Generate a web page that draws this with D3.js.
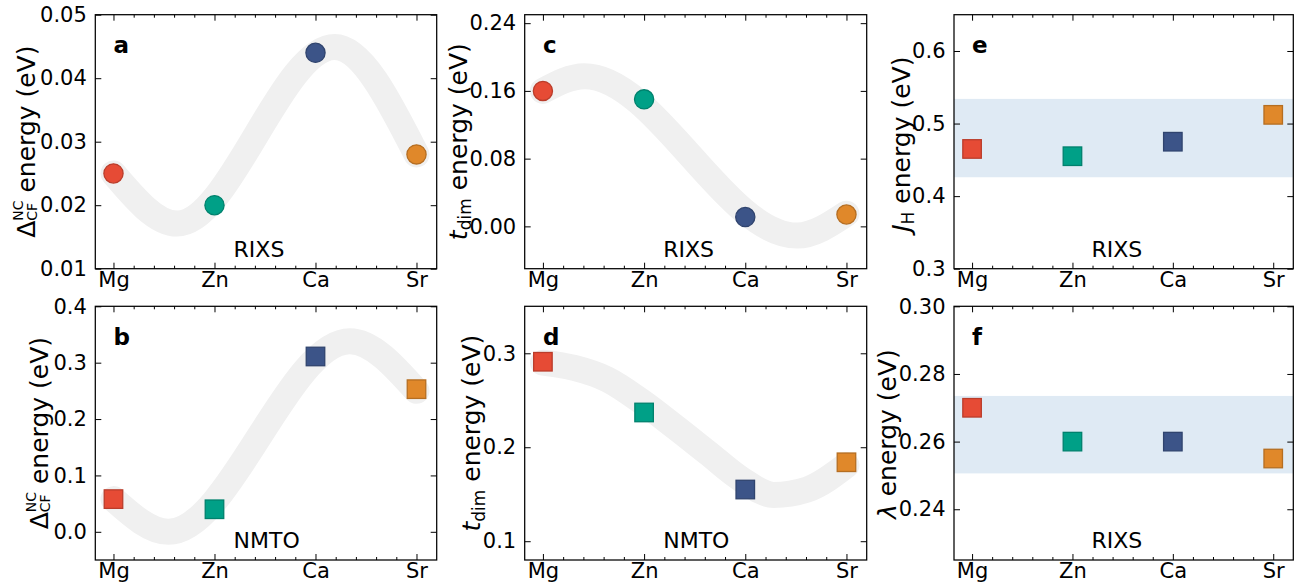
<!DOCTYPE html>
<html>
<head>
<meta charset="utf-8">
<script src="https://d3js.org/d3.v7.min.js"></script>
<style>
  body { margin: 0; background: #fff; }
  svg { display: block; font-family: "DejaVu Sans", sans-serif; }
</style>
</head>
<body>
<svg id="chart" width="1294" height="585"></svg>
<script>
// categories and colours
var cats = ["Mg", "Zn", "Ca", "Sr"];
var catColors = ["#E64B35", "#00A087", "#3C5488", "#E0882A"];

// values
var rixsCF = [0.025, 0.020, 0.044, 0.028];
var nmtoCF = [0.058, 0.040, 0.311, 0.253];
var rixsTdim = [0.160, 0.150, 0.011, 0.014];
var nmtoTdim = [0.291, 0.237, 0.155, 0.184];
var rixsJH = [0.465, 0.455, 0.475, 0.512];
var rixsLambda = [0.270, 0.260, 0.260, 0.255];

// shaded ranges (e, f)
var jhRange = [0.426, 0.534];
var lambdaRange = [0.2506, 0.2735];

// grey guide curves, points read along the band centre
var guideA = [[0, 0.0250], [0.63, 0.0171], [2.19, 0.0449], [3, 0.0280]];
var guideB = [[0, 0.058], [0.545, 0.000], [2.34, 0.338], [3, 0.250]];
var guideC = [[0, 0.160], [0.41, 0.1774], [2.51, -0.0109], [3, 0.015]];
var guideD = [[0, 0.290], [0.31, 0.2844], [0.64, 0.272], [0.97, 0.249], [1.30, 0.222],
              [1.63, 0.194], [1.96, 0.166], [2.28, 0.1493], [2.61, 0.155], [3, 0.181]];

// y ticks
var ticksA = [0.01, 0.02, 0.03, 0.04, 0.05];
var ticksB = [0.0, 0.1, 0.2, 0.3, 0.4];
var ticksC = [0.00, 0.08, 0.16, 0.24];
var ticksD = [0.1, 0.2, 0.3];
var ticksE = [0.3, 0.4, 0.5, 0.6];
var ticksF = [0.24, 0.26, 0.28, 0.30];

var colL = [95.3, 524.7, 954], colR = [436.7, 866.7, 1293.3];
var rowT = [14.7, 306.3], rowB = [268.7, 560];

var panels = [
  {letter: "a", col: 0, row: 0, vals: rixsCF, dom: [0.01, 0.05], ticks: ticksA, fmt: ".2f", shape: "circle", guide: guideA, method: "RIXS", label: "cf"},
  {letter: "b", col: 0, row: 1, vals: nmtoCF, dom: [-0.05, 0.4], ticks: ticksB, fmt: ".1f", shape: "square", guide: guideB, method: "NMTO", label: "cf"},
  {letter: "c", col: 1, row: 0, vals: rixsTdim, dom: [-0.05, 0.25], ticks: ticksC, fmt: ".2f", shape: "circle", guide: guideC, method: "RIXS", label: "tdim"},
  {letter: "d", col: 1, row: 1, vals: nmtoTdim, dom: [0.08, 0.35], ticks: ticksD, fmt: ".1f", shape: "square", guide: guideD, method: "NMTO", label: "tdim"},
  {letter: "e", col: 2, row: 0, vals: rixsJH, dom: [0.3, 0.65], ticks: ticksE, fmt: ".1f", shape: "square", range: jhRange, method: "RIXS", label: "jh"},
  {letter: "f", col: 2, row: 1, vals: rixsLambda, dom: [0.225, 0.30], ticks: ticksF, fmt: ".2f", shape: "square", range: lambdaRange, method: "RIXS", label: "lambda"}
];

var svg = d3.select("#chart");
var FS = 21, LFS = 25;
var minorX = d3.range(1, 16).map(function(i){ return i * 0.2; })
  .filter(function(v){ return Math.abs(v - Math.round(v)) > 0.01 && v < 3.15; });

function styleAxis(g) {
  g.select(".domain").remove();
  g.attr("font-size", FS).attr("font-family", "'DejaVu Sans', sans-serif");
  g.selectAll("line").attr("stroke", "#000").attr("stroke-width", 1);
  g.selectAll("text").attr("fill", "#000");
}

panels.forEach(function(p) {
  var L = colL[p.col], R = colR[p.col], T = rowT[p.row], B = rowB[p.row];
  var x = d3.scaleLinear().domain([-0.18, 3.2]).range([L, R]);
  var y = d3.scaleLinear().domain(p.dom).range([B, T]);
  var g = svg.append("g");

  // shaded range
  if (p.range) {
    g.append("rect")
      .attr("x", L).attr("width", R - L)
      .attr("y", y(p.range[1])).attr("height", y(p.range[0]) - y(p.range[1]))
      .attr("fill", "#dfeaf4");
  }

  // grey guide band
  if (p.guide) {
    var line = d3.line()
      .x(function(d){ return x(d[0]); })
      .y(function(d){ return y(d[1]); })
      .curve(d3.curveMonotoneX);
    g.append("path")
      .attr("d", line(p.guide))
      .attr("fill", "none")
      .attr("stroke", "#f0f0f0")
      .attr("stroke-width", 26)
      .attr("stroke-linecap", "round");
  }

  // axes
  var ax = g.append("g").attr("transform", "translate(" + L + ",0)")
    .call(d3.axisLeft(y).tickValues(p.ticks).tickFormat(d3.format(p.fmt))
      .tickSizeInner(-6).tickSizeOuter(0).tickPadding(8.5));
  styleAxis(ax);
  styleAxis(g.append("g").attr("transform", "translate(" + R + ",0)")
    .call(d3.axisRight(y).tickValues(p.ticks).tickFormat("").tickSizeInner(-6).tickSizeOuter(0)));
  styleAxis(g.append("g").attr("transform", "translate(0," + B + ")")
    .call(d3.axisBottom(x).tickValues([0, 1, 2, 3]).tickFormat(function(d, i){ return cats[i]; })
      .tickSizeInner(-6).tickSizeOuter(0).tickPadding(3.5)));
  styleAxis(g.append("g").attr("transform", "translate(0," + B + ")")
    .call(d3.axisBottom(x).tickValues(minorX).tickFormat("").tickSizeInner(-3).tickSizeOuter(0)));
  styleAxis(g.append("g").attr("transform", "translate(0," + T + ")")
    .call(d3.axisTop(x).tickValues([0, 1, 2, 3]).tickFormat("").tickSizeInner(-6).tickSizeOuter(0)));
  styleAxis(g.append("g").attr("transform", "translate(0," + T + ")")
    .call(d3.axisTop(x).tickValues(minorX).tickFormat("").tickSizeInner(-3).tickSizeOuter(0)));

  // frame
  g.append("rect")
    .attr("x", L).attr("y", T).attr("width", R - L).attr("height", B - T)
    .attr("fill", "none").attr("stroke", "#000").attr("stroke-width", 1.25);

  // markers
  var s = 18.5;
  var m = g.selectAll(".mk").data(p.vals).enter();
  if (p.shape === "circle") {
    m.append("circle").attr("class", "mk")
      .attr("cx", function(d, i){ return x(i); })
      .attr("cy", function(d){ return y(d); })
      .attr("r", 9.6);
  } else {
    m.append("rect").attr("class", "mk")
      .attr("x", function(d, i){ return x(i) - s / 2; })
      .attr("y", function(d){ return y(d) - s / 2; })
      .attr("width", s).attr("height", s);
  }
  g.selectAll(".mk")
    .attr("fill", function(d, i){ return catColors[i]; })
    .attr("stroke", function(d, i){ return d3.color(catColors[i]).darker(0.6); })
    .attr("stroke-width", 1.3);

  // panel letter and method
  g.append("text").attr("x", x(0)).attr("y", T + 38.7)
    .attr("font-size", 23).attr("font-weight", "bold").text(p.letter);
  g.append("text").attr("x", L + 0.405 * (R - L)).attr("y", B - 12)
    .attr("font-size", 22).text(p.method);

  // y label
  var minX = d3.min(ax.selectAll("text").nodes(), function(n){ return n.getBBox().x; }) + L;
  var gap = p.label === "cf" ? 5 : 2.5;
  var lab = g.append("text")
    .attr("transform", "translate(" + (minX - gap) + "," + ((T + B) / 2) + ") rotate(-90)")
    .attr("font-size", LFS);
  if (p.label === "cf") {
    lab.append("tspan").text("Δ");
    var sup = lab.append("tspan").attr("font-size", 14).attr("dy", -12).text("NC");
    var wSup = sup.node().getComputedTextLength();
    var sub = lab.append("tspan").attr("font-size", 14).attr("dx", -wSup).attr("dy", 13.5).text("CF");
    var wSub = sub.node().getComputedTextLength();
    lab.append("tspan").attr("dx", Math.max(0, wSup - wSub)).attr("dy", -1.5).text(" energy (eV)");
  } else if (p.label === "tdim") {
    lab.append("tspan").attr("font-style", "italic").text("t");
    lab.append("tspan").attr("font-size", 17).attr("dy", 4.5).text("dim");
    lab.append("tspan").attr("dy", -4.5).text(" energy (eV)");
  } else if (p.label === "jh") {
    lab.append("tspan").attr("font-style", "italic").text("J");
    lab.append("tspan").attr("font-size", 17).attr("dy", 4.5).text("H");
    lab.append("tspan").attr("dy", -4.5).text(" energy (eV)");
  } else {
    lab.append("tspan").attr("font-style", "italic").text("λ");
    lab.append("tspan").text(" energy (eV)");
  }
  var w = lab.node().getBBox().width;
  lab.attr("x", -w / 2);
});
</script>
</body>
</html>
